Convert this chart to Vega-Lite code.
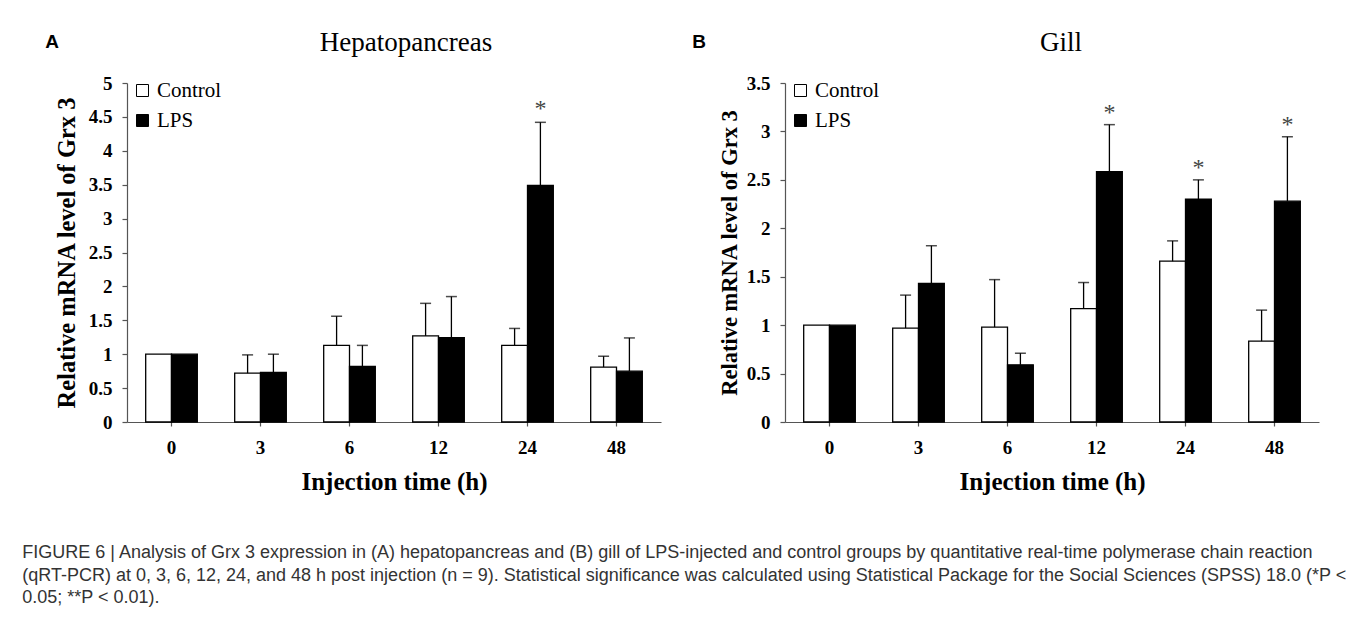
{
  "$schema": "https://vega.github.io/schema/vega-lite/v6.json",
  "background": "white",
  "padding": {"left": 22, "top": 29, "right": 5, "bottom": 5},
  "datasets": {
    "hep": [
      {"time": "0", "group": "Control", "mean": 1.0, "upper": null, "sig": null},
      {"time": "0", "group": "LPS", "mean": 1.0, "upper": null, "sig": null},
      {"time": "3", "group": "Control", "mean": 0.72, "upper": 0.99, "sig": null},
      {"time": "3", "group": "LPS", "mean": 0.73, "upper": 1.0, "sig": null},
      {"time": "6", "group": "Control", "mean": 1.13, "upper": 1.56, "sig": null},
      {"time": "6", "group": "LPS", "mean": 0.82, "upper": 1.13, "sig": null},
      {"time": "12", "group": "Control", "mean": 1.27, "upper": 1.75, "sig": null},
      {"time": "12", "group": "LPS", "mean": 1.245, "upper": 1.85, "sig": null},
      {"time": "24", "group": "Control", "mean": 1.13, "upper": 1.38, "sig": null},
      {"time": "24", "group": "LPS", "mean": 3.49, "upper": 4.42, "sig": "*"},
      {"time": "48", "group": "Control", "mean": 0.81, "upper": 0.97, "sig": null},
      {"time": "48", "group": "LPS", "mean": 0.75, "upper": 1.24, "sig": null}
    ],
    "gill": [
      {"time": "0", "group": "Control", "mean": 1.0, "upper": null, "sig": null},
      {"time": "0", "group": "LPS", "mean": 1.0, "upper": null, "sig": null},
      {"time": "3", "group": "Control", "mean": 0.97, "upper": 1.31, "sig": null},
      {"time": "3", "group": "LPS", "mean": 1.43, "upper": 1.82, "sig": null},
      {"time": "6", "group": "Control", "mean": 0.98, "upper": 1.47, "sig": null},
      {"time": "6", "group": "LPS", "mean": 0.59, "upper": 0.71, "sig": null},
      {"time": "12", "group": "Control", "mean": 1.17, "upper": 1.44, "sig": null},
      {"time": "12", "group": "LPS", "mean": 2.585, "upper": 3.07, "sig": "*"},
      {"time": "24", "group": "Control", "mean": 1.66, "upper": 1.87, "sig": null},
      {"time": "24", "group": "LPS", "mean": 2.3, "upper": 2.5, "sig": "*"},
      {"time": "48", "group": "Control", "mean": 0.835, "upper": 1.155, "sig": null},
      {"time": "48", "group": "LPS", "mean": 2.28, "upper": 2.945, "sig": "*"}
    ]
  },
  "title": {
    "text": [
      "FIGURE 6 | Analysis of Grx 3 expression in (A) hepatopancreas and (B) gill of LPS-injected and control groups by quantitative real-time polymerase chain reaction",
      "(qRT-PCR) at 0, 3, 6, 12, 24, and 48 h post injection (n = 9). Statistical significance was calculated using Statistical Package for the Social Sciences (SPSS) 18.0 (*P <",
      "0.05; **P < 0.01)."
    ],
    "orient": "bottom",
    "anchor": "start",
    "frame": "bounds",
    "font": "Liberation Sans",
    "fontSize": 18,
    "fontWeight": "normal",
    "color": "#333333",
    "lineHeight": 22.5,
    "offset": 50,
    "dx": -23
  },
  "hconcat": [
    {
      "title": {"text": "A", "anchor": "start", "frame": "bounds", "font": "Liberation Sans", "fontSize": 19, "fontWeight": "bold", "color": "black", "dy": 27, "dx": -9},
      "vconcat": [
        {
          "title": {"text": "Hepatopancreas", "anchor": "middle", "frame": "group", "font": "Liberation Serif", "fontSize": 27, "fontWeight": "normal", "color": "black", "offset": 17, "dx": 12},
          "width": 534,
          "height": 339,
          "data": {"name": "hep"},
          "encoding": {
            "x": {"field": "time", "type": "nominal", "sort": ["0", "3", "6", "12", "24", "48"], "scale": {"paddingInner": 0.42, "paddingOuter": 0.21}, "title": "Injection time (h)"},
            "xOffset": {"field": "group", "type": "nominal", "sort": ["Control", "LPS"], "scale": {"paddingInner": 0, "paddingOuter": 0}}
          },
          "layer": [
            {
              "mark": {"type": "bar", "stroke": "black", "strokeWidth": 1.3},
              "encoding": {
                "y": {"field": "mean", "type": "quantitative", "scale": {"domain": [0, 5], "nice": false}, "axis": {"values": [0, 0.5, 1, 1.5, 2, 2.5, 3, 3.5, 4, 4.5, 5], "format": "~g", "titleFontSize": 24.5}, "title": "Relative mRNA level of Grx 3"},
                "color": {"field": "group", "type": "nominal", "scale": {"domain": ["Control", "LPS"], "range": ["white", "black"]}, "legend": {"orient": "none", "legendX": 5, "legendY": -3}}
              }
            },
            {
              "transform": [{"filter": "datum.upper != null"}],
              "mark": {"type": "rule", "color": "black", "strokeWidth": 1.3},
              "encoding": {
                "y": {"field": "mean", "type": "quantitative", "axis": {"values": [0, 0.5, 1, 1.5, 2, 2.5, 3, 3.5, 4, 4.5, 5], "format": "~g", "titleFontSize": 24.5}, "title": "Relative mRNA level of Grx 3"},
                "y2": {"field": "upper"}
              }
            },
            {
              "transform": [{"filter": "datum.upper != null"}],
              "mark": {"type": "tick", "color": "black", "size": 11, "thickness": 1.5},
              "encoding": {
                "y": {"field": "upper", "type": "quantitative", "axis": {"values": [0, 0.5, 1, 1.5, 2, 2.5, 3, 3.5, 4, 4.5, 5], "format": "~g", "titleFontSize": 24.5}, "title": "Relative mRNA level of Grx 3"}
              }
            },
            {
              "transform": [{"filter": "datum.sig != null"}],
              "mark": {"type": "text", "font": "Liberation Serif", "fontSize": 24, "color": "#444444", "baseline": "alphabetic", "dy": -6},
              "encoding": {
                "y": {"field": "upper", "type": "quantitative", "axis": {"values": [0, 0.5, 1, 1.5, 2, 2.5, 3, 3.5, 4, 4.5, 5], "format": "~g", "titleFontSize": 24.5}, "title": "Relative mRNA level of Grx 3"},
                "text": {"field": "sig"}
              }
            }
          ]
        }
      ]
    },
    {
      "title": {"text": "B", "anchor": "start", "frame": "bounds", "font": "Liberation Sans", "fontSize": 19, "fontWeight": "bold", "color": "black", "dy": 27, "dx": -26},
      "vconcat": [
        {
          "title": {"text": "Gill", "anchor": "middle", "frame": "group", "font": "Liberation Serif", "fontSize": 27, "fontWeight": "normal", "color": "black", "offset": 17, "dx": 9},
          "width": 534,
          "height": 339,
          "data": {"name": "gill"},
          "encoding": {
            "x": {"field": "time", "type": "nominal", "sort": ["0", "3", "6", "12", "24", "48"], "scale": {"paddingInner": 0.42, "paddingOuter": 0.21}, "title": "Injection time (h)"},
            "xOffset": {"field": "group", "type": "nominal", "sort": ["Control", "LPS"], "scale": {"paddingInner": 0, "paddingOuter": 0}}
          },
          "layer": [
            {
              "mark": {"type": "bar", "stroke": "black", "strokeWidth": 1.3},
              "encoding": {
                "y": {"field": "mean", "type": "quantitative", "scale": {"domain": [0, 3.5], "nice": false}, "axis": {"values": [0, 0.5, 1, 1.5, 2, 2.5, 3, 3.5], "format": "~g", "titleFontSize": 22.5, "titlePadding": 5}, "title": "Relative mRNA level of Grx 3"},
                "color": {"field": "group", "type": "nominal", "scale": {"domain": ["Control", "LPS"], "range": ["white", "black"]}, "legend": {"orient": "none", "legendX": 5, "legendY": -3}}
              }
            },
            {
              "transform": [{"filter": "datum.upper != null"}],
              "mark": {"type": "rule", "color": "black", "strokeWidth": 1.3},
              "encoding": {
                "y": {"field": "mean", "type": "quantitative", "axis": {"values": [0, 0.5, 1, 1.5, 2, 2.5, 3, 3.5], "format": "~g", "titleFontSize": 22.5, "titlePadding": 5}, "title": "Relative mRNA level of Grx 3"},
                "y2": {"field": "upper"}
              }
            },
            {
              "transform": [{"filter": "datum.upper != null"}],
              "mark": {"type": "tick", "color": "black", "size": 11, "thickness": 1.5},
              "encoding": {
                "y": {"field": "upper", "type": "quantitative", "axis": {"values": [0, 0.5, 1, 1.5, 2, 2.5, 3, 3.5], "format": "~g", "titleFontSize": 22.5, "titlePadding": 5}, "title": "Relative mRNA level of Grx 3"}
              }
            },
            {
              "transform": [{"filter": "datum.sig != null"}],
              "mark": {"type": "text", "font": "Liberation Serif", "fontSize": 24, "color": "#444444", "baseline": "alphabetic", "dy": -5},
              "encoding": {
                "y": {"field": "upper", "type": "quantitative", "axis": {"values": [0, 0.5, 1, 1.5, 2, 2.5, 3, 3.5], "format": "~g", "titleFontSize": 22.5, "titlePadding": 5}, "title": "Relative mRNA level of Grx 3"},
                "text": {"field": "sig"}
              }
            }
          ]
        }
      ]
    }
  ],
  "spacing": 31,
  "resolve": {"scale": {"color": "independent"}, "legend": {"color": "independent"}},
  "config": {
    "view": {"stroke": null},
    "axis": {
      "grid": false,
      "labelFont": "Liberation Serif",
      "labelFontWeight": "bold",
      "labelFontSize": 19,
      "labelColor": "black",
      "titleFont": "Liberation Serif",
      "titleFontWeight": "bold",
      "titleColor": "black",
      "domainColor": "#555555",
      "tickColor": "#555555",
      "domainWidth": 1.2,
      "tickWidth": 1.2
    },
    "axisX": {"labelAngle": 0, "tickSize": 4, "labelPadding": 12, "titleFontSize": 25, "titlePadding": 12},
    "axisY": {"tickSize": 5, "labelPadding": 10, "titlePadding": 9},
    "legend": {
      "title": null,
      "symbolType": "square",
      "symbolSize": 144,
      "symbolStrokeColor": "black",
      "symbolStrokeWidth": 1,
      "labelFont": "Liberation Serif",
      "labelFontSize": 21,
      "labelColor": "black",
      "labelOffset": 4,
      "rowPadding": 8,
      "padding": 0
    }
  }
}
